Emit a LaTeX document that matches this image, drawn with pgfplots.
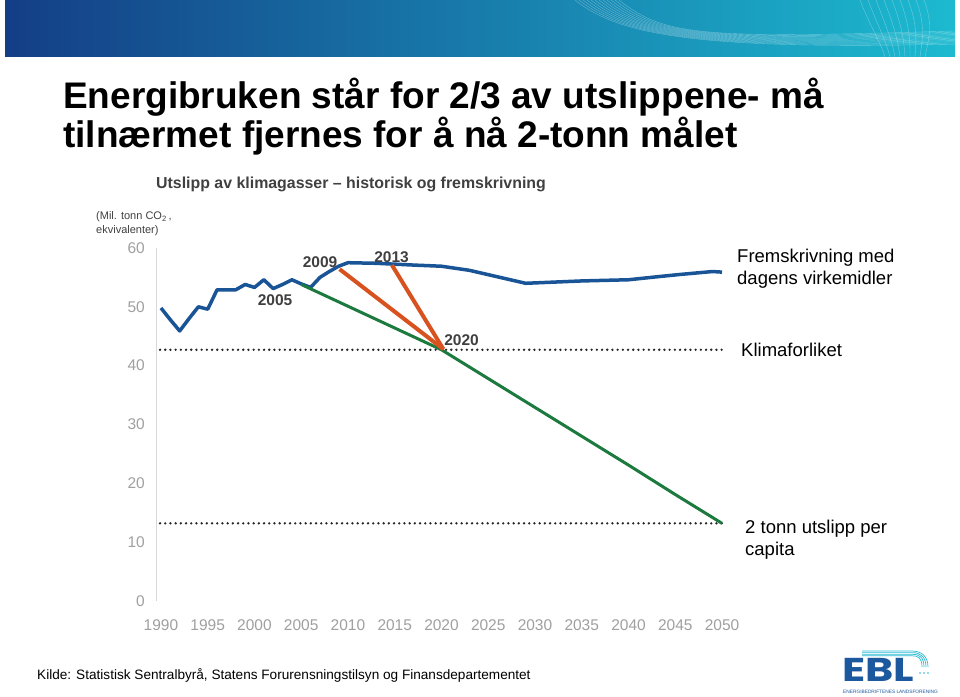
\documentclass[border=0pt]{standalone}
\usepackage{pgfplots}
\pgfplotsset{compat=1.18}
\usepackage{fontspec}
\setmainfont{Liberation Sans}
\newfontfamily\logofont{Poppins}
\definecolor{cblue}{RGB}{24,84,150}
\definecolor{cgreen}{RGB}{28,122,62}
\definecolor{corange}{RGB}{215,82,30}
\definecolor{axisgray}{RGB}{215,215,215}
\definecolor{tickgray}{RGB}{160,160,160}
\definecolor{dgray}{RGB}{64,64,64}
\definecolor{hdrL}{RGB}{20,62,134}
\definecolor{hdrM}{RGB}{5,88,160}
\definecolor{hdrR}{RGB}{28,186,208}
\definecolor{logoblue}{RGB}{28,88,158}
\definecolor{logocyan}{RGB}{40,185,210}
\begin{document}
\begin{tikzpicture}[x=1pt,y=1pt]
\path[use as bounding box] (0,0) rectangle (960,696);
\fill[white] (0,0) rectangle (960,696);
% header bar
\shade[left color=hdrL, middle color=hdrM, right color=hdrR] (5,639) rectangle (955,696);
\begin{scope}
\clip (5,639) rectangle (955,696);
\foreach \i in {0,...,11} {
  \draw[white, opacity=0.35, line width=0.4pt] (575+4*\i,696) .. controls (620+4*\i,660) and (700,646+\i) .. (960,652+1.2*\i);
}
\foreach \i in {0,...,8} {
  \draw[white, opacity=0.35, line width=0.4pt] (860+8*\i,696) .. controls (870+8*\i,670) and (880+6*\i,655) .. (885+5*\i,639);
}
\end{scope}
% title
\node[anchor=base west, align=left, inner sep=0pt, font=\bfseries\fontsize{37}{38}\selectfont] at (63,548.5)
  {Energibruken står for 2/3 av utslippene- må\\tilnærmet fjernes for å nå 2-tonn målet};
\node[anchor=base west, inner sep=0pt, text=dgray, font=\bfseries\fontsize{15.9}{18}\selectfont] at (156,507.5)
  {Utslipp av klimagasser – historisk og fremskrivning};
\node[anchor=base west, align=left, inner sep=0pt, text=dgray, font=\fontsize{11}{14}\selectfont] at (96,462)
  {(Mil. tonn CO\textsubscript{2}\,,\\ekvivalenter)};
\begin{axis}[
  at={(156.3pt,95pt)}, anchor=south west, scale only axis,
  width=575.05pt, height=353pt,
  xmin=1989.5, xmax=2051, ymin=0, ymax=60,
  axis y line=left, axis x line=bottom,
  x axis line style={draw=none,-},
  y axis line style={draw=axisgray, line width=0.9pt, -},
  xtick={1990,1995,...,2050}, ytick={0,10,...,60},
  major tick length=0pt,
  tick label style={font=\fontsize{15.5}{16}\selectfont, text=tickgray},
  /pgf/number format/assume math mode=true,
  /pgf/number format/1000 sep={},
  xticklabel style={yshift=-15pt},
  yticklabel style={xshift=-8pt},
  clip=false,
]
\addplot[black!85, line width=2.6pt, line cap=round, dash pattern=on 0pt off 5.2pt] coordinates {(1989.9,42.7) (2050.5,42.7)};
\addplot[black!85, line width=2.6pt, line cap=round, dash pattern=on 0pt off 5.2pt] coordinates {(1989.9,13.2) (2050.5,13.2)};
\addplot[cblue, line width=3.5pt, line join=round] coordinates {
(1990,49.8) (1991,47.8) (1992,45.9) (1993,48.0) (1994,50.0) (1995,49.6) (1996,52.9) (1997,52.9) (1998,52.9) (1999,53.8) (2000,53.3) (2001,54.6) (2002,53.1) (2003,53.8) (2004,54.6) (2005,53.9) (2006,53.3) (2007,55.0) (2008,56.0) (2009,56.9) (2010,57.5) (2013,57.4) (2017,57.1) (2020,56.9) (2023,56.2) (2026,55.1) (2029,54.0) (2032,54.2) (2035,54.4) (2040,54.6) (2043,55.1) (2045.5,55.5) (2049,56.0) (2050,55.9)};
\addplot[cgreen, line width=3pt, line join=round] coordinates {
(2005,53.8) (2010,50.1) (2015,46.4) (2020,42.7) (2025,37.8) (2030,32.9) (2035,28.0) (2040,23.1) (2045,18.1) (2050,13.2)};
\addplot[corange, line width=4pt] coordinates {(2009.1,56.4) (2020.2,42.8)};
\addplot[corange, line width=4pt] coordinates {(2014.7,57.1) (2020.2,42.8)};
\end{axis}
% in-chart labels
\begin{scope}[every node/.style={inner sep=0pt, text=dgray, font=\bfseries\fontsize{15.5}{18}\selectfont}]
\node[anchor=base] at (275,390) {2005};
\node[anchor=base] at (320,428) {2009};
\node[anchor=base] at (391.5,433) {2013};
\node[anchor=base] at (461.5,350) {2020};
\end{scope}
\begin{scope}[every node/.style={inner sep=0pt, anchor=base west, align=left, font=\fontsize{18.5}{21.5}\selectfont}]
\node at (737,411.5) {Fremskrivning med\\dagens virkemidler};
\node at (741,339) {Klimaforliket};
\node at (745,141) {2 tonn utslipp per\\capita};
\end{scope}
% footer
\node[anchor=base west, inner sep=0pt, font=\fontsize{13.6}{16}\selectfont] at (37,17)
  {Kilde: Statistisk Sentralbyrå, Statens Forurensningstilsyn og Finansdepartementet};
% logo
\begin{scope}
\node[anchor=base west, inner sep=0pt, text=logoblue, xscale=1.3, transform shape, font=\logofont\bfseries\fontsize{33}{33}\selectfont] at (842,15) {\smash{EBL}};
\foreach \i in {0,...,3} {
  \draw[logocyan, line width=0.7pt] (862,45-1.6*\i) -- (912,45-1.6*\i) .. controls (922-1.5*\i,45-1.6*\i) and (928-2*\i,39) .. (928-2*\i,29);
}
\foreach \i in {0,1,2} { \fill[logocyan] (920+4*\i,23) circle (0.9); }
\node[anchor=base west, inner sep=0pt, text=logoblue, font=\fontsize{4.8}{5}\selectfont] at (843,3) {ENERGIBEDRIFTENES LANDSFORENING};
\end{scope}
\end{tikzpicture}
\end{document}
